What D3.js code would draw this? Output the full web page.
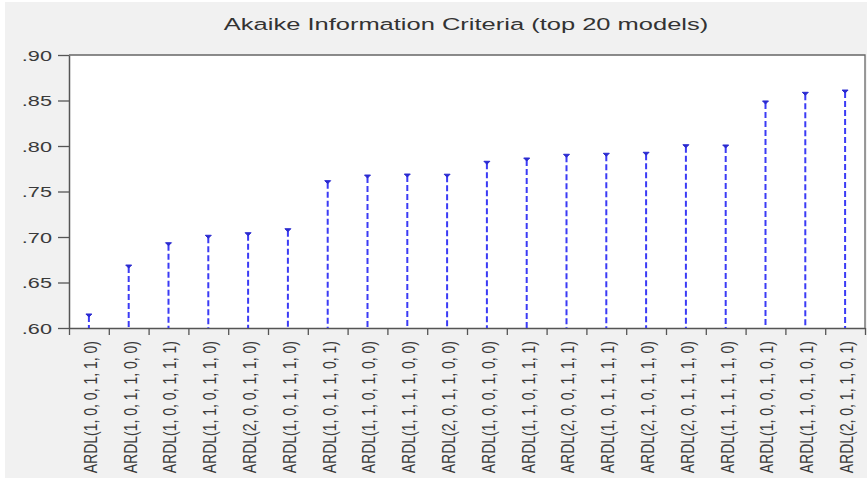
<!DOCTYPE html>
<html>
<head>
<meta charset="utf-8">
<script src="https://cdn.jsdelivr.net/npm/d3@7"></script>
<style>
  body { margin: 0; background: #fff; }
  svg { display: block; font-family: "Liberation Sans", Arial, sans-serif; }
</style>
</head>
<body>
<div class="AIC-Chart"></div>
<script>
// chart data
const MODELS = [
  "ARDL(1, 0, 0, 1, 1, 0)", "ARDL(1, 0, 1, 1, 0, 0)", "ARDL(1, 0, 0, 1, 1, 1)",
  "ARDL(1, 1, 0, 1, 1, 0)", "ARDL(2, 0, 0, 1, 1, 0)", "ARDL(1, 0, 1, 1, 1, 0)",
  "ARDL(1, 0, 1, 1, 0, 1)", "ARDL(1, 1, 0, 1, 0, 0)", "ARDL(1, 1, 1, 1, 0, 0)",
  "ARDL(2, 0, 1, 1, 0, 0)", "ARDL(1, 0, 0, 1, 0, 0)", "ARDL(1, 1, 0, 1, 1, 1)",
  "ARDL(2, 0, 0, 1, 1, 1)", "ARDL(1, 0, 1, 1, 1, 1)", "ARDL(2, 1, 0, 1, 1, 0)",
  "ARDL(2, 0, 1, 1, 1, 0)", "ARDL(1, 1, 1, 1, 1, 0)", "ARDL(1, 0, 0, 1, 0, 1)",
  "ARDL(1, 1, 0, 1, 0, 1)", "ARDL(2, 0, 1, 1, 0, 1)"
];
const AIC = [
  0.6154, 0.6692, 0.6937, 0.7019, 0.7047, 0.7091, 0.7619, 0.7681, 0.7692, 0.7690,
  0.7832, 0.7868, 0.7909, 0.7920, 0.7931, 0.8014, 0.8011, 0.8495, 0.8590, 0.8615
];
const YTICKS = [0.60, 0.65, 0.70, 0.75, 0.80, 0.85, 0.90];
const YLABELS = [".60", ".65", ".70", ".75", ".80", ".85", ".90"];
const TITLE = "Akaike Information Criteria (top 20 models)";

const WIDTH = 867;
const HEIGHT = 478;
const LEFT = 69, RIGHT = 865, TOP = 55, BOTTOM = 328;
const STRETCH = 1.5; // the source picture is stretched sideways

const svg = d3.select(".AIC-Chart")
  .append("svg")
  .attr("width", WIDTH)
  .attr("height", HEIGHT);

// grey page and white plot area
svg.append("rect").attr("x", 5).attr("y", 2).attr("width", WIDTH - 5).attr("height", HEIGHT - 2)
  .attr("fill", "#f1f1f1");
svg.append("rect").attr("x", LEFT).attr("y", TOP).attr("width", RIGHT - LEFT).attr("height", BOTTOM - TOP)
  .attr("fill", "#fff");

const y = d3.scaleLinear().domain([0.60, 0.90]).range([BOTTOM, TOP]);
const x = d3.scaleBand().domain(MODELS).range([LEFT, RIGHT]);
const edge = d3.scaleLinear().domain([0, MODELS.length]).range([LEFT, RIGHT]);

// title
svg.append("text")
  .attr("transform", `translate(466,30) scale(${STRETCH},1)`)
  .attr("text-anchor", "middle")
  .attr("font-size", 17)
  .attr("fill", "#333")
  .text(TITLE);

// left axis
const yAxis = svg.append("g")
  .attr("transform", `translate(${LEFT},0)`)
  .call(d3.axisLeft(y).tickValues(YTICKS).tickFormat((d, i) => YLABELS[i]).tickSize(11).tickSizeOuter(0));
yAxis.select(".domain").attr("stroke", "#555").attr("stroke-width", 1.5);
yAxis.selectAll(".tick line").attr("stroke", "#555").attr("stroke-width", 1.3);
yAxis.selectAll(".tick text")
  .attr("x", null)
  .attr("dy", "0.36em")
  .attr("transform", `translate(-17,0) scale(1.55,1)`)
  .attr("font-size", 14)
  .attr("fill", "#3a3a3a");

// bottom axis: ticks at the band edges
const xAxis = svg.append("g")
  .attr("transform", `translate(0,${BOTTOM})`)
  .call(d3.axisBottom(edge).tickValues(d3.range(0, MODELS.length + 1)).tickFormat("").tickSize(7).tickSizeOuter(0));
xAxis.select(".domain").attr("stroke", "#555").attr("stroke-width", 1.5);
xAxis.selectAll(".tick line").attr("stroke", "#555").attr("stroke-width", 1.3);

// rotated model labels
svg.append("g")
  .selectAll("text")
  .data(MODELS)
  .join("text")
  .attr("transform", d => `translate(${x(d) + x.bandwidth() / 2 + 1},341) scale(1.35,1) rotate(-90)`)
  .attr("text-anchor", "end")
  .attr("dy", "0.36em")
  .attr("font-size", 14)
  .attr("fill", "#3a3a3a")
  .text(d => d);

// top and right frame
svg.append("path")
  .attr("d", `M${LEFT},${TOP}H${RIGHT}V${BOTTOM}`)
  .attr("fill", "none")
  .attr("stroke", "#666")
  .attr("stroke-width", 1.3);

// dashed drop lines with a small cap
const stems = svg.append("g")
  .selectAll("g")
  .data(MODELS.map((m, i) => ({ model: m, value: AIC[i] })))
  .join("g");

stems.append("line")
  .attr("x1", d => x(d.model) + x.bandwidth() / 2)
  .attr("x2", d => x(d.model) + x.bandwidth() / 2)
  .attr("y1", d => y(d.value) + 2)
  .attr("y2", BOTTOM)
  .attr("stroke", "#3b3bf5")
  .attr("stroke-width", 2)
  .attr("stroke-dasharray", "6,3");

stems.append("path")
  .attr("d", d => {
    const cx = x(d.model) + x.bandwidth() / 2, cy = y(d.value);
    return `M${cx - 3},${cy}H${cx + 3}L${cx},${cy + 3}Z`;
  })
  .attr("fill", "#2a2ad0")
  .attr("stroke", "#2a2ad0")
  .attr("stroke-width", 1);
</script>
</body>
</html>
